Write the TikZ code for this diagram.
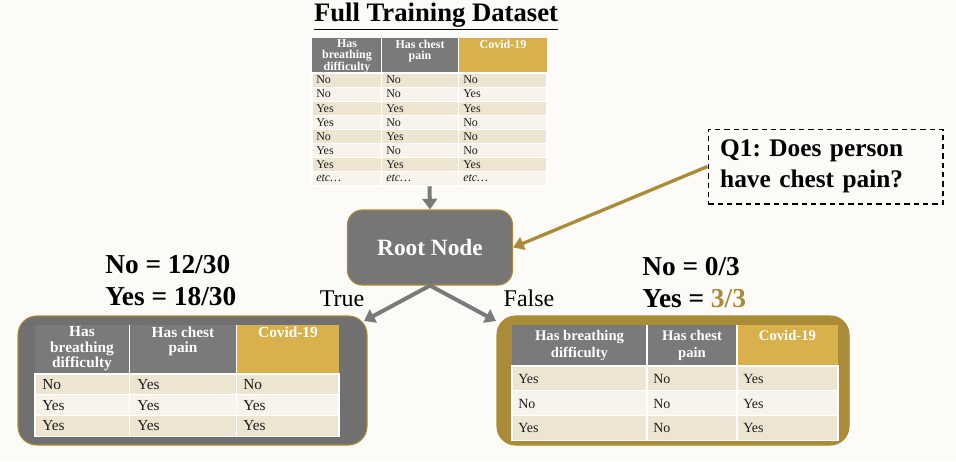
\documentclass[tikz,border=0pt]{standalone}
\usepackage{fontspec}
\setmainfont{Liberation Serif}
\usetikzlibrary{arrows.meta,fit}
\frenchspacing

\definecolor{bgColor}{RGB}{252,251,248}
\definecolor{headGray}{RGB}{122,122,122}
\definecolor{headGold}{RGB}{216,177,77}
\definecolor{rowDark}{RGB}{238,228,210}
\definecolor{rowLight}{RGB}{248,244,235}
\definecolor{nodeGray}{RGB}{118,118,118}
\definecolor{boxGray}{RGB}{112,112,112}
\definecolor{accentGold}{RGB}{170,139,56}
\definecolor{textDark}{RGB}{30,30,30}

\begin{document}
\begin{tikzpicture}[
  x=0.75pt, y=-0.75pt,
  cellbox/.style={draw=white, line width=0.8pt},
  sepline/.style={draw=white, line width=1pt},
  headtext/.style={text=white, align=center, anchor=north, inner sep=0pt},
  bodytext/.style={text=textDark, anchor=west, inner sep=0pt},
  label/.style={font=\fontsize{20.5}{22}\selectfont\bfseries, text=black, anchor=west, inner sep=0pt},
  branch/.style={font=\fontsize{18}{20}\selectfont, text=black, inner sep=0pt},
  grayArrow/.style={draw=headGray, line width=3pt, -{Triangle[length=8pt,width=11pt]}},
  goldArrow/.style={draw=accentGold, line width=2.5pt, -{Triangle[length=8pt,width=10pt]}}
]

% Canvas
\fill[bgColor] (0,0) rectangle (956,461);
\useasboundingbox (0,0) rectangle (956,461);

% Title
\node[font=\fontsize{20}{22}\selectfont\bfseries] (title) at (436,17) {\underline{Full Training Dataset}};

% Full training table
\fill[headGray] (312,38) rectangle (458.5,73);
\fill[headGold] (458.5,38) rectangle (547,73);
\node[headtext, font=\fontsize{9}{8.2}\selectfont\bfseries] (full-h1) at (347,39.5) {Has\\breathing\\difficulty};
\node[headtext, font=\fontsize{9}{8.2}\selectfont\bfseries] (full-h2) at (420,39.5) {Has chest\\pain};
\node[headtext, font=\fontsize{9}{8.2}\selectfont\bfseries] (full-h3) at (503,39.5) {Covid-19};
\foreach \a/\b/\c [count=\r] in {No/No/No, No/No/Yes, Yes/Yes/Yes, Yes/No/No, No/Yes/No, Yes/No/No, Yes/Yes/Yes, \textit{etc\ldots}/\textit{etc\ldots}/\textit{etc\ldots}} {
  \ifodd\r \def\rowcol{rowDark}\else \def\rowcol{rowLight}\fi
  \pgfmathsetmacro\ytop{73+14.1*(\r-1)}
  \filldraw[cellbox, fill=\rowcol] (312,\ytop) rectangle (547,\ytop+14.1);
  \node[bodytext, font=\fontsize{9}{9}\selectfont] (full-\r-1) at (316,\ytop+7) {\a};
  \node[bodytext, font=\fontsize{9}{9}\selectfont] (full-\r-2) at (386,\ytop+7) {\b};
  \node[bodytext, font=\fontsize{9}{9}\selectfont] (full-\r-3) at (463,\ytop+7) {\c};
}
\draw[sepline] (381.5,38) -- (381.5,186);
\draw[sepline] (458.5,38) -- (458.5,186);
\node[fit={(312,38) (547,186)}, inner sep=0pt] (fullTable) {};

% Root node and question
\node[fill=nodeGray, draw=accentGold, line width=0.8pt, rounded corners=11pt,
      minimum width=123.75pt, minimum height=56.25pt, text=white,
      font=\fontsize{17.5}{20}\selectfont\bfseries] (root) at (430,247.5) {Root Node};
\node[draw=black, line width=1pt, dash pattern=on 4pt off 3pt, minimum width=176pt,
      minimum height=56pt, text width=158pt, inner xsep=9pt, align=left,
      font=\fontsize{19}{23}\selectfont\bfseries] (question) at (825.5,166.5) {Q1: Does person\\have chest pain?};

\draw[grayArrow] (fullTable.south) -- (root.north);
\draw[goldArrow] (question.west) -- (root.east);

% Branch labels
\node[label] (leftNo) at (105,265) {No = 12/30};
\node[label] (leftYes) at (105,297) {Yes = 18/30};
\node[label] (rightNo) at (642,267) {No = 0/3};
\node[label] (rightYes) at (642,299) {Yes = \textcolor{accentGold}{3/3}};
\node[branch] (trueLabel) at (342,299) {True};
\node[branch] (falseLabel) at (529,298) {False};

% True branch table
\node[fit={(18,316) (367,445)}, inner sep=0pt, rounded corners=14pt, fill=boxGray,
      draw=accentGold, line width=0.8pt] (leftBox) {};
\fill[headGray] (35,325) rectangle (236.5,374);
\fill[headGold] (236.5,325) rectangle (339,374);
\node[headtext, font=\fontsize{11.5}{11.5}\selectfont\bfseries] (left-h1) at (82,326.5) {Has\\breathing\\difficulty};
\node[headtext, font=\fontsize{11.5}{11.5}\selectfont\bfseries] (left-h2) at (183,326.5) {Has chest\\pain};
\node[headtext, font=\fontsize{11.5}{11.5}\selectfont\bfseries] (left-h3) at (288,326.5) {Covid-19};
\foreach \a/\b/\c [count=\r] in {No/Yes/No, Yes/Yes/Yes, Yes/Yes/Yes} {
  \ifodd\r \def\rowcol{rowDark}\else \def\rowcol{rowLight}\fi
  \pgfmathsetmacro\ytop{374+20.7*(\r-1)}
  \filldraw[cellbox, fill=\rowcol] (35,\ytop) rectangle (339,\ytop+20.7);
  \node[bodytext, font=\fontsize{11.5}{12}\selectfont] (left-\r-1) at (42,\ytop+10.5) {\a};
  \node[bodytext, font=\fontsize{11.5}{12}\selectfont] (left-\r-2) at (137,\ytop+10.5) {\b};
  \node[bodytext, font=\fontsize{11.5}{12}\selectfont] (left-\r-3) at (243,\ytop+10.5) {\c};
}
\draw[sepline] (129.5,325) -- (129.5,436);
\draw[sepline] (236.5,325) -- (236.5,436);

% False branch table
\node[fit={(497,316) (849,445)}, inner sep=0pt, rounded corners=14pt, fill=accentGold,
      draw=accentGold, line width=0.8pt] (rightBox) {};
\fill[headGray] (512,325) rectangle (737,366);
\fill[headGold] (737,325) rectangle (838,366);
\node[headtext, font=\fontsize{11}{12.5}\selectfont\bfseries] (right-h1) at (579.5,330) {Has breathing\\difficulty};
\node[headtext, font=\fontsize{11}{12.5}\selectfont\bfseries] (right-h2) at (692,330) {Has chest\\pain};
\node[headtext, font=\fontsize{11}{12.5}\selectfont\bfseries] (right-h3) at (787.5,330) {Covid-19};
\foreach \a/\b/\c [count=\r] in {Yes/No/Yes, No/No/Yes, Yes/No/Yes} {
  \ifodd\r \def\rowcol{rowDark}\else \def\rowcol{rowLight}\fi
  \pgfmathsetmacro\ytop{366+24.7*(\r-1)}
  \filldraw[cellbox, fill=\rowcol] (512,\ytop) rectangle (838,\ytop+24.7);
  \node[bodytext, font=\fontsize{10.5}{11}\selectfont] (right-\r-1) at (518,\ytop+13) {\a};
  \node[bodytext, font=\fontsize{10.5}{11}\selectfont] (right-\r-2) at (653,\ytop+13) {\b};
  \node[bodytext, font=\fontsize{10.5}{11}\selectfont] (right-\r-3) at (743,\ytop+13) {\c};
}
\draw[sepline] (647,325) -- (647,440);
\draw[sepline] (737,325) -- (737,440);

% Branch connectors
\coordinate (trueEnd) at (364,321);
\coordinate (falseEnd) at (496,321);
\draw[grayArrow] (root.south) -- (trueEnd);
\draw[grayArrow] (root.south) -- (falseEnd);

\end{tikzpicture}
\end{document}
